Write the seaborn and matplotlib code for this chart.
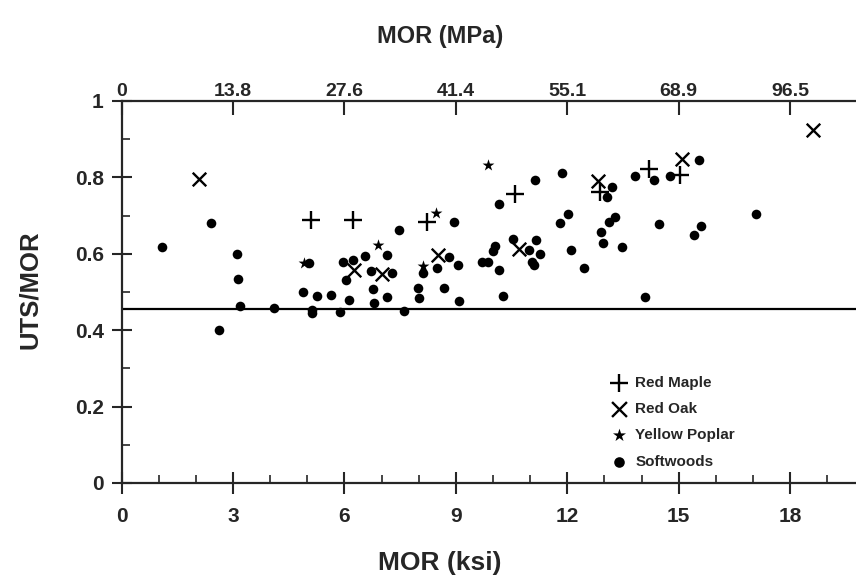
# UTS/MOR ratio vs MOR scatter, hardwoods vs softwoods
# values (MOR in ksi)

import matplotlib.pyplot as plt
import pandas as pd
import seaborn as sns
from matplotlib.ticker import FuncFormatter, MultipleLocator

maple_x = [5.10, 6.24, 8.21, 10.59, 12.88, 14.21, 15.04]
maple_y = [0.688, 0.688, 0.683, 0.756, 0.762, 0.822, 0.806]

oak_x = [2.09, 6.26, 7.00, 8.51, 10.70, 12.84, 15.10, 18.63]
oak_y = [0.795, 0.557, 0.546, 0.597, 0.613, 0.791, 0.848, 0.924]

poplar_x = [8.46, 6.91, 4.91, 8.12, 9.86]
poplar_y = [0.706, 0.622, 0.577, 0.568, 0.832]

soft_x = [
    2.41, 1.08, 3.10, 3.12, 3.19, 4.10, 2.63, 8.95, 7.48, 7.14,
    5.04, 5.95, 6.24, 6.55, 6.04, 6.71, 7.29, 6.76, 7.14, 6.80,
    6.11, 5.63, 5.25, 4.89, 5.12, 5.12, 5.88, 7.60, 8.12, 7.99,
    8.02, 8.48, 8.82, 9.05, 8.69, 9.09, 9.70, 9.87, 10.16, 11.14,
    11.85, 13.20, 13.06, 13.82, 14.33, 14.77, 15.54, 17.08, 12.03, 11.80,
    13.29, 13.13, 14.48, 12.90, 12.97, 13.47, 12.11, 12.46, 14.09, 15.42,
    15.60, 10.05, 10.01, 10.53, 11.15, 10.98, 11.27, 11.04, 11.11, 10.16,
    10.28,
]
soft_y = [
    0.680, 0.619, 0.600, 0.535, 0.463, 0.457, 0.400, 0.682, 0.661, 0.597,
    0.577, 0.578, 0.585, 0.594, 0.531, 0.555, 0.550, 0.508, 0.487, 0.470,
    0.480, 0.493, 0.490, 0.501, 0.452, 0.445, 0.448, 0.451, 0.550, 0.510,
    0.485, 0.562, 0.591, 0.570, 0.511, 0.477, 0.578, 0.578, 0.730, 0.792,
    0.811, 0.775, 0.750, 0.804, 0.792, 0.804, 0.845, 0.703, 0.703, 0.680,
    0.696, 0.682, 0.679, 0.657, 0.629, 0.618, 0.609, 0.562, 0.486, 0.648,
    0.672, 0.620, 0.607, 0.638, 0.635, 0.609, 0.600, 0.579, 0.570, 0.557,
    0.489,
]

ref_line = 0.455
bottom_ticks = [0, 3, 6, 9, 12, 15, 18]
top_ticks = [0, 3, 6, 9, 12, 15, 18]
top_labels = ["0", "13.8", "27.6", "41.4", "55.1", "68.9", "96.5"]

df = pd.concat([
    pd.DataFrame({"mor": maple_x, "ratio": maple_y, "species": "Red Maple"}),
    pd.DataFrame({"mor": oak_x, "ratio": oak_y, "species": "Red Oak"}),
    pd.DataFrame({"mor": poplar_x, "ratio": poplar_y, "species": "Yellow Poplar"}),
    pd.DataFrame({"mor": soft_x, "ratio": soft_y, "species": "Softwoods"}),
], ignore_index=True)

sns.set_style("ticks")
plt.rcParams["font.family"] = ["Liberation Sans", "DejaVu Sans"]
plt.rcParams["font.weight"] = "bold"

W, H = 856, 585
fig = plt.figure(figsize=(W / 100, H / 100), dpi=100)
ax = fig.add_axes([121.7 / W, 1 - 483 / H, (W - 121.7) / W, (483 - 101) / H])

styles = {
    "Red Maple": dict(marker="+", s=150, linewidth=1.7),
    "Red Oak": dict(marker="x", s=95, linewidth=1.7),
    "Yellow Poplar": dict(marker="*", s=80, linewidth=0),
    "Softwoods": dict(marker="o", s=48, linewidth=0),
}
for name, st in styles.items():
    sub = df[df["species"] == name]
    sns.scatterplot(data=sub, x="mor", y="ratio", color="black", edgecolor="black",
                    ax=ax, label=name, zorder=3, **st)

ax.axhline(ref_line, color="black", lw=1.6, zorder=2)

ax.set_xlim(0, (W - 121.7) / 37.13)
ax.set_ylim(0, 1)
ax.set_xticks(bottom_ticks)
ax.xaxis.set_minor_locator(MultipleLocator(1))
ax.yaxis.set_major_locator(MultipleLocator(0.2))
ax.yaxis.set_minor_locator(MultipleLocator(0.1))
ax.yaxis.set_major_formatter(FuncFormatter(lambda v, p: f"{v:g}"))
ax.set_xlabel("")
ax.set_ylabel("")

ax.tick_params(axis="x", which="major", direction="inout", length=16, width=1.5,
               pad=9, labelsize=15)
ax.tick_params(axis="x", which="minor", direction="in", length=6, width=1.2)
ax.tick_params(axis="y", which="major", direction="inout", length=14, width=1.5,
               pad=6, labelsize=15)
ax.tick_params(axis="y", which="minor", direction="in", length=6, width=1.2)

for side in ["left", "bottom"]:
    ax.spines[side].set_linewidth(1.6)
ax.spines["right"].set_visible(False)
ax.spines["top"].set_visible(False)

# top axis in MPa (labels as printed in the original)
secax = ax.secondary_xaxis("top")
secax.set_xticks(top_ticks, labels=top_labels)
secax.tick_params(direction="in", length=10, width=1.5, pad=1, labelsize=14)
secax.spines["top"].set_linewidth(1.6)

ax.legend(loc="upper left", bbox_to_anchor=(611 / W, 1 - 376 / H),
          bbox_transform=fig.transFigure, frameon=False,
          prop={"weight": "bold", "size": 11}, handletextpad=0.6,
          labelspacing=0.8, handlelength=1.0, borderaxespad=0, borderpad=0,
          markerscale=1.1)

fig.text(440 / W, 1 - 36 / H, "MOR (MPa)", ha="center", va="center",
         weight="bold", fontsize=17)
fig.text(440 / W, 1 - 563 / H, "MOR (ksi)", ha="center", va="center",
         weight="bold", fontsize=19)
fig.text(30 / W, 1 - 290 / H, "UTS/MOR", ha="center", va="center", rotation=90,
         weight="bold", fontsize=18.5)

fig.savefig("out.png", dpi=100)
